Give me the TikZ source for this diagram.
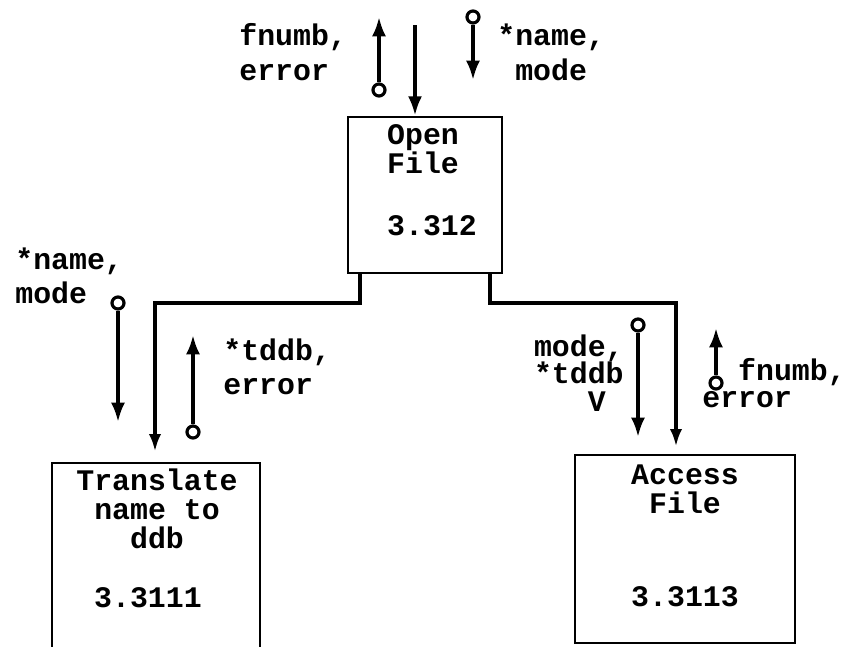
\documentclass[tikz,border=0pt]{standalone}
\usepackage{fontspec}
\setmonofont{Liberation Mono}
\usetikzlibrary{arrows.meta}
\tikzset{
  proc/.style={draw=black, line width=1.6pt, rectangle, inner sep=0pt},
  ptxt/.style={font={\ttfamily\bfseries\fontsize{17}{16.5}\selectfont}, align=center, inner sep=0pt},
  lab/.style={font={\ttfamily\bfseries\fontsize{17}{19}\selectfont}, align=left, inner sep=0pt},
  flow/.style={draw=black, line width=2pt, -{Latex[length=11pt,width=8pt]}},
  ctrl/.style={draw=black, line width=2pt, -{Latex[length=10pt,width=7pt]}},
  couple/.style={circle, draw=black, line width=1.8pt, minimum size=0.24cm, inner sep=0pt},
}
\begin{document}
\begin{tikzpicture}[x=0.02cm, y=-0.02cm]
  \useasboundingbox (0,0) rectangle (844,646);
  \clip (0,0) rectangle (844,646);

  % modules
  \node[proc, minimum width=3.08cm, minimum height=3.12cm] (open) at (425,195) {};
  \node[ptxt] (open-t) at (423,149) {Open\\File};
  \node[ptxt] (open-n) at (432,226) {3.312};

  \node[proc, minimum width=4.16cm, minimum height=4.74cm] (translate) at (156,581.5) {};
  \node[ptxt] (translate-t) at (157,509) {Translate\\name to\\ddb};
  \node[ptxt] (translate-n) at (148,598) {3.3111};

  \node[proc, minimum width=4.4cm, minimum height=3.76cm] (access) at (685,549) {};
  \node[ptxt] (access-t) at (685,489) {Access\\File};
  \node[ptxt] (access-n) at (685,597) {3.3113};

  % calls
  \coordinate (in) at (415,25);
  \draw[flow] (in) -- (in |- open.north);
  \draw[ctrl, shorten >=0.2cm] (open.south -| 360,0) -- (360,303) -- (155,303) -- (translate.north -| 155,0);
  \draw[ctrl, shorten >=0.14cm] (open.south -| 490,0) -- (490,303) -- (676,303) -- (access.north -| 676,0);

  % data couples
  \node[couple] (c1) at (379,90) {};
  \coordinate (c1e) at (379,17);
  \draw[flow] (c1) -- (c1e);
  \node[couple] (c2) at (473,17) {};
  \coordinate (c2e) at (473,80);
  \draw[flow] (c2) -- (c2e);
  \node[couple] (c3) at (118,303) {};
  \coordinate (c3e) at (118,422);
  \draw[flow] (c3) -- (c3e);
  \node[couple] (c4) at (193,432) {};
  \coordinate (c4e) at (193,335);
  \draw[flow] (c4) -- (c4e);
  \node[couple] (c5) at (638,325) {};
  \coordinate (c5e) at (638,437);
  \draw[flow] (c5) -- (c5e);
  \node[couple] (c6) at (716,383) {};
  \coordinate (c6e) at (716,328);
  \draw[flow] (c6) -- (c6e);

  % labels
  \node[lab, anchor=west, font={\ttfamily\bfseries\fontsize{17}{19.8}\selectfont}] (l1) at (239,52) {fnumb,\\error};
  \node[lab, anchor=west, font={\ttfamily\bfseries\fontsize{17}{19.8}\selectfont}] (l2) at (497,52) {*name,\\\hphantom{*}mode};
  \node[lab, anchor=west] (l3) at (15,276) {*name,\\mode};
  \node[lab, anchor=west] (l4) at (223,367) {*tddb,\\error};
  \node[lab, anchor=east, align=right, font={\ttfamily\bfseries\fontsize{17}{15.6}\selectfont}] (l5) at (624,373) {mode,\\*tddb\\V\hphantom{,}};
  \node[lab, anchor=west, font={\ttfamily\bfseries\fontsize{17}{15}\selectfont}] (l6) at (702,383) {\hphantom{ee}fnumb,\\error};
\end{tikzpicture}
\end{document}
